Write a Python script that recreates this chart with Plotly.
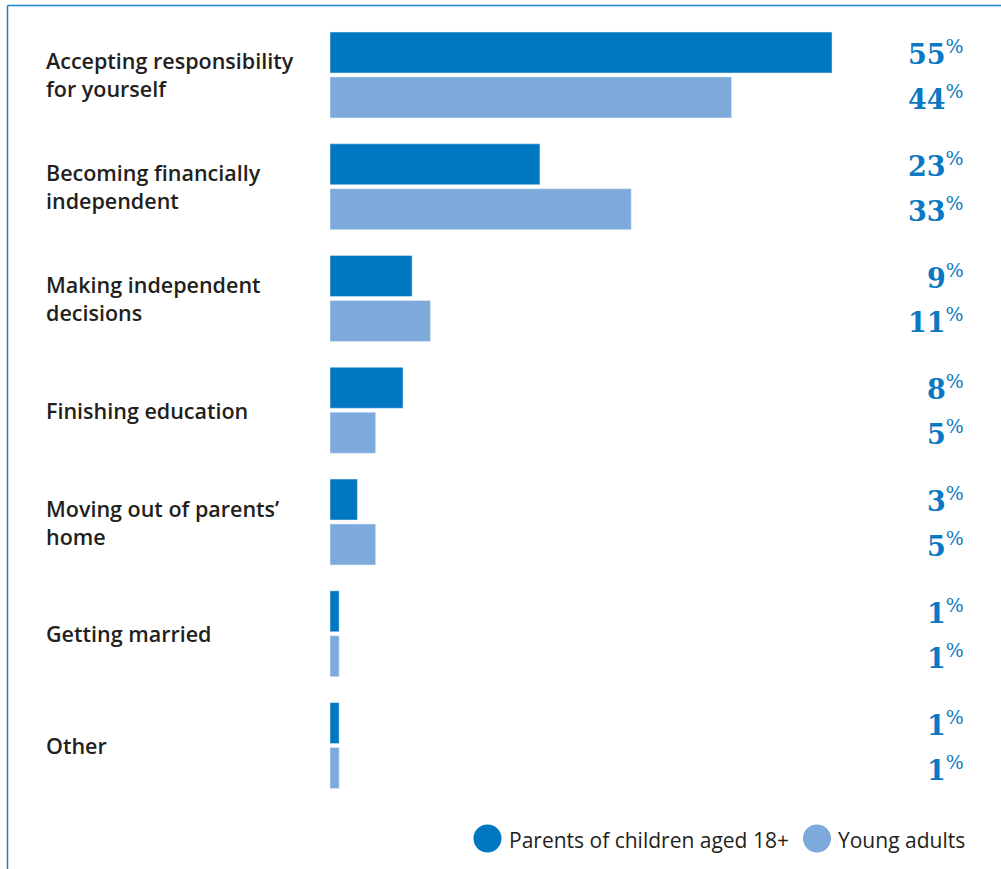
import plotly.graph_objects as go

categories = ["Accepting responsibility for yourself", "Becoming financially independent",
              "Making independent decisions", "Finishing education",
              "Moving out of parents’ home", "Getting married", "Other"]
labels = ["Accepting responsibility<br>for yourself", "Becoming financially<br>independent",
          "Making independent<br>decisions", "Finishing education",
          "Moving out of parents’<br>home", "Getting married", "Other"]
parents = [55, 23, 9, 8, 3, 1, 1]
young = [44, 33, 11, 5, 5, 1, 1]
series_names = ["Parents of children aged 18+", "Young adults"]

DARK = "#0077c1"
LIGHT = "#7daadb"
TEXT = "#231f20"
W, H = 1001, 869

fig = go.Figure()
fig.add_trace(go.Bar(y=categories, x=parents, orientation="h", marker_color=DARK,
                     name=series_names[0], showlegend=False, hoverinfo="skip"))
fig.add_trace(go.Bar(y=categories, x=young, orientation="h", marker_color=LIGHT,
                     name=series_names[1], showlegend=False, hoverinfo="skip"))

ann = []
for i, (lab, p, y) in enumerate(zip(labels, parents, young)):
    ann.append(dict(x=44 / W, xref="paper", y=i, yref="y", text=lab, showarrow=False,
                    xanchor="left", yanchor="middle", align="left",
                    font=dict(family="Open Sans", size=21.5, color=TEXT, weight=600)))
    for off, v in ((-0.2013, p), (0.2013, y)):
        ann.append(dict(x=966 / W, xref="paper", y=i + off, yref="y",
                        text=f"<b>{v}</b><sup>%</sup>", showarrow=False,
                        xanchor="right", yanchor="middle",
                        font=dict(family="DejaVu Serif", size=27, color="#0a78c2")))

# legend (custom circles + text)
leg_y = 1 - 840 / H
ann.append(dict(x=507 / W, xref="paper", y=leg_y, yref="paper", text=series_names[0],
                showarrow=False, xanchor="left", yanchor="middle",
                font=dict(family="Open Sans", size=21, color=TEXT)))
ann.append(dict(x=836 / W, xref="paper", y=leg_y, yref="paper", text=series_names[1],
                showarrow=False, xanchor="left", yanchor="middle",
                font=dict(family="Open Sans", size=21, color=TEXT)))

shapes = [
    dict(type="circle", xref="paper", yref="paper", x0=473.5 / W, x1=501.5 / W,
         y0=1 - 852.5 / H, y1=1 - 824.5 / H, fillcolor=DARK, line=dict(width=0)),
    dict(type="circle", xref="paper", yref="paper", x0=803 / W, x1=831 / W,
         y0=1 - 852.5 / H, y1=1 - 824.5 / H, fillcolor=LIGHT, line=dict(width=0)),
    # frame lines
    dict(type="line", xref="paper", yref="paper", x0=7.5 / W, x1=1.0, y0=1 - 5.5 / H, y1=1 - 5.5 / H,
         line=dict(color="#1a80c8", width=1.5)),
    dict(type="line", xref="paper", yref="paper", x0=7.5 / W, x1=7.5 / W, y0=0, y1=1 - 5.5 / H,
         line=dict(color="#1a80c8", width=1.5)),
]

px_per_unit = 9.127
fig.update_layout(
    width=W, height=H, margin=dict(l=0, r=0, t=0, b=0),
    paper_bgcolor="white", plot_bgcolor="white",
    barmode="group", bargap=0.196, bargroupgap=0.0889,
    xaxis=dict(range=[0, 60], domain=[330 / W, (330 + 60 * px_per_unit) / W], visible=False,
               fixedrange=True),
    yaxis=dict(type="category", categoryorder="array", categoryarray=categories,
               range=[6.5, -0.5], domain=[1 - 801.4 / H, 1 - 19.1 / H], visible=False,
               fixedrange=True),
    annotations=ann, shapes=shapes, showlegend=False, hovermode=False,
)

fig.write_html("out.html", config={"displayModeBar": False, "staticPlot": True},
               post_script="document.body.style.margin='0px';document.body.style.overflow='hidden';")
